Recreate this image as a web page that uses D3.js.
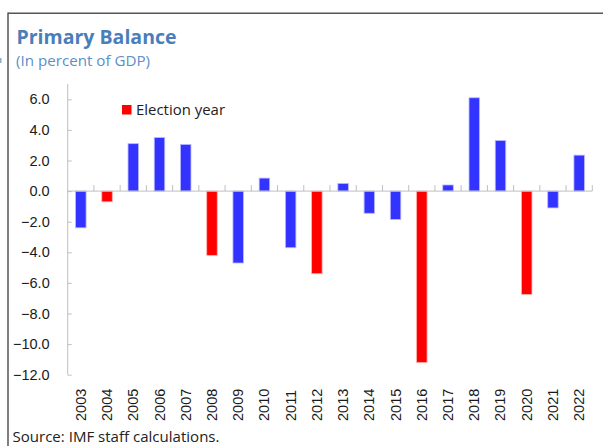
<!DOCTYPE html>
<html>
<head>
<meta charset="utf-8">
<script src="https://cdn.jsdelivr.net/npm/d3@7/dist/d3.min.js"></script>
<style>
  html, body { margin: 0; padding: 0; background: #fff; }
  svg { display: block; }
</style>
</head>
<body>
<svg id="chart" width="603" height="446"></svg>
<script>
// ---- data ----
const years = ["2003","2004","2005","2006","2007","2008","2009","2010","2011","2012",
               "2013","2014","2015","2016","2017","2018","2019","2020","2021","2022"];
const primaryBalance = [-2.4, -0.7, 3.1, 3.5, 3.05, -4.2, -4.7, 0.85, -3.7, -5.4,
                        0.5, -1.45, -1.85, -11.2, 0.4, 6.1, 3.3, -6.75, -1.1, 2.35];
const electionYears = ["2004","2008","2012","2016","2020"];
const yTicks = [-12, -10, -8, -6, -4, -2, 0, 2, 4, 6];

const titleText = "Primary Balance";
const subtitleText = "(In percent of GDP)";
const legendText = "Election year";
const sourceText = "Source: IMF staff calculations.";

// ---- styles ----
const BLUE = "#3333FF", RED = "#FF0000", AXIS = "#BFBFBF";
const uiFont = "'Open Sans', 'Noto Sans', sans-serif";
const tickFont = "'Liberation Sans', Arial, sans-serif";

const svg = d3.select("#chart");

// frame lines
svg.append("line").attr("x1", 8).attr("x2", 603).attr("y1", 13.3).attr("y2", 13.3)
  .attr("stroke", "#555").attr("stroke-width", 1.5);
svg.append("line").attr("x1", 8).attr("x2", 8).attr("y1", 12.6).attr("y2", 446)
  .attr("stroke", "#555").attr("stroke-width", 1.5);

// title & subtitle
svg.append("text").attr("x", 16.5).attr("y", 43.5)
  .attr("font-family", uiFont).attr("font-weight", "bold").attr("font-size", 20)
  .attr("fill", "#4A7EBB").attr("textLength", 160).attr("lengthAdjust", "spacingAndGlyphs")
  .text(titleText);
svg.append("text").attr("x", 16).attr("y", 66)
  .attr("font-family", uiFont).attr("font-size", 15)
  .attr("fill", "#5B8FC6").attr("textLength", 134).attr("lengthAdjust", "spacingAndGlyphs")
  .text(subtitleText);

// scales
const x = d3.scaleBand().domain(years).range([67.7, 592.3]).paddingInner(0.6).paddingOuter(0.3);
const y = d3.scaleLinear().domain([-12, 7]).range([374.7, 84]);

// y axis
const yAxis = d3.axisLeft(y).tickValues(yTicks).tickFormat(d3.format(".1f")).tickSize(-4).tickPadding(18);
const gy = svg.append("g").attr("transform", "translate(67.7,0)").call(yAxis);
gy.select(".domain").attr("stroke", AXIS).attr("d", `M0,${y(7)}V${y(-12)}`);
gy.selectAll(".tick line").attr("stroke", AXIS);
gy.selectAll(".tick text").attr("font-family", tickFont).attr("font-size", 14.5).attr("fill", "#1a1a1a");

// bars
svg.append("g").selectAll("rect").data(years).join("rect")
  .attr("x", d => x(d))
  .attr("width", x.bandwidth())
  .attr("y", (d, i) => y(Math.max(0, primaryBalance[i])))
  .attr("height", (d, i) => Math.abs(y(primaryBalance[i]) - y(0)))
  .attr("fill", d => electionYears.includes(d) ? RED : BLUE)
  .attr("stroke", d => electionYears.includes(d) ? "#FFB0B0" : "#B8B8FF")
  .attr("stroke-width", 0.8);

// x axis (zero line with category boundary ticks)
const step = x.step();
const boundaries = d3.range(years.length + 1).map(i => x.range()[0] + i * step);
const gx = svg.append("g");
gx.append("line").attr("x1", x.range()[0]).attr("x2", x.range()[1])
  .attr("y1", y(0)).attr("y2", y(0)).attr("stroke", AXIS).attr("stroke-width", 1);
gx.selectAll("line.tk").data(boundaries.slice(1)).join("line").attr("class", "tk")
  .attr("x1", d => d).attr("x2", d => d).attr("y1", y(0)).attr("y2", y(0) - 6)
  .attr("stroke", AXIS).attr("stroke-width", 1);

// x labels (rotated)
svg.append("g").selectAll("text").data(years).join("text")
  .attr("transform", d => `translate(${x(d) + x.bandwidth() / 2 + 5},421) rotate(-90)`)
  .attr("text-anchor", "start")
  .attr("font-family", tickFont).attr("font-size", 14.5).attr("fill", "#1a1a1a")
  .text(d => d);

// legend
svg.append("rect").attr("x", 122).attr("y", 105).attr("width", 9.5).attr("height", 9.5).attr("fill", RED);
svg.append("text").attr("x", 136).attr("y", 115)
  .attr("font-family", uiFont).attr("font-size", 14.5).attr("fill", "#222")
  .attr("textLength", 89).attr("lengthAdjust", "spacingAndGlyphs")
  .text(legendText);

// source
svg.append("text").attr("x", 12.5).attr("y", 441.5)
  .attr("font-family", uiFont).attr("font-size", 14.5).attr("fill", "#222")
  .attr("textLength", 207).attr("lengthAdjust", "spacingAndGlyphs")
  .text(sourceText);

// small mark at far left
svg.append("rect").attr("x", 0).attr("y", 58).attr("width", 1.5).attr("height", 5).attr("fill", "#9ab");
</script>
</body>
</html>
